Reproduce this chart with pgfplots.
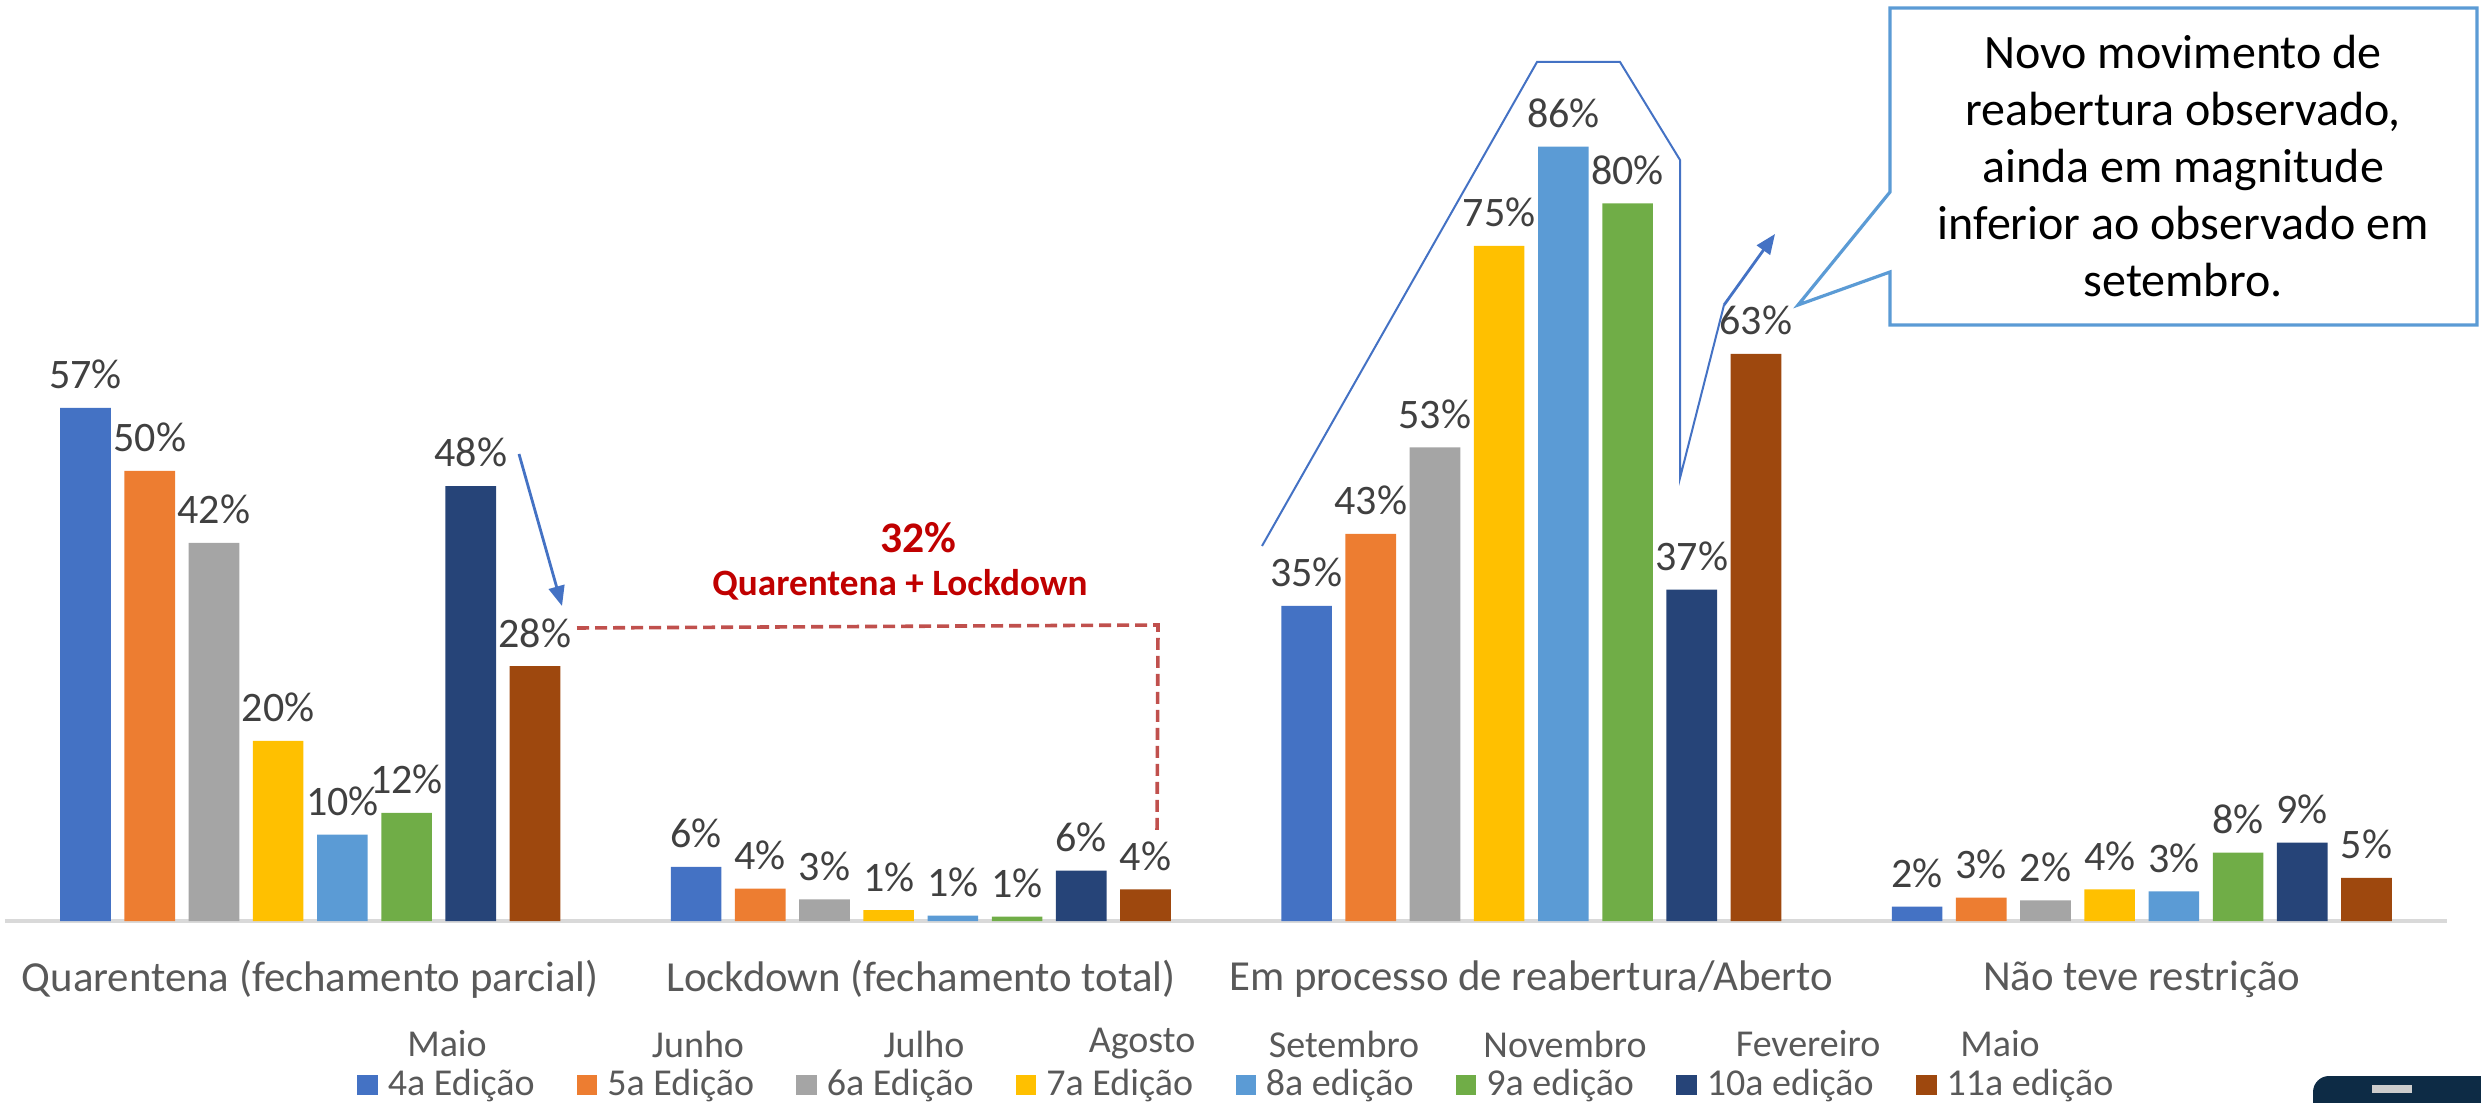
\documentclass[border=0pt]{standalone}
\usepackage{fontspec}
\setmainfont{Carlito}
\usepackage{pgfplots}
\pgfplotsset{compat=1.18}
\usetikzlibrary{arrows.meta}

\definecolor{ed4}{HTML}{4472C4}
\definecolor{ed5}{HTML}{ED7D31}
\definecolor{ed6}{HTML}{A5A5A5}
\definecolor{ed7}{HTML}{FFC000}
\definecolor{ed8}{HTML}{5B9BD5}
\definecolor{ed9}{HTML}{70AD47}
\definecolor{ed10}{HTML}{264478}
\definecolor{ed11}{HTML}{9E480E}
\definecolor{labgray}{HTML}{595959}
\definecolor{valgray}{HTML}{404040}
\definecolor{baseline}{HTML}{D9D9D9}
\definecolor{darkred}{HTML}{C00000}
\definecolor{dashred}{HTML}{C0504D}
\definecolor{logo}{HTML}{0D2B45}

\begin{document}
\begin{tikzpicture}
\useasboundingbox (-1.25pt,-45.25pt) rectangle (619pt,230.25pt);
\begin{axis}[
    at={(0,0)}, anchor=south west,
    scale only axis, width=610.5pt, height=230.25pt,
    xmin=-0.5, xmax=3.5, ymin=0, ymax=102.3,
    ybar=3.4pt, bar width=12.65pt,
    axis y line=none, axis x line*=bottom,
    x axis line style={draw=baseline, line width=0.8pt},
    xtick={0,1,2,3},
    xticklabels={Quarentena (fechamento parcial),Lockdown (fechamento total),Em processo de reabertura/Aberto,Não teve restrição},
    major tick length=0pt,
    xticklabel style={anchor=center, yshift=-14.5pt, text=labgray, font=\fontsize{10.7}{12}\selectfont},
    point meta=explicit symbolic,
    nodes near coords={\pgfplotspointmeta\%},
    nodes near coords style={anchor=base, inner sep=0pt, yshift=4.8pt, text=valgray, font=\fontsize{10.5}{12}\selectfont},
    legend columns=8,
    legend style={at={(0.5055,-0.178)}, anchor=center, draw=none, fill=none,
        font=\fontsize{9.5}{11}\selectfont, text=labgray,
        /tikz/every even column/.append style={column sep=8.6pt},
        /tikz/every odd column/.append style={column sep=0.5pt}},
    legend image code/.code={\fill[#1] (0pt,-2.6pt) rectangle (5.1pt,2.6pt);},
]
\addplot[fill=ed4, draw=none] coordinates {(0,57) [57] (1,6.0) [6] (2,35) [35] (3,1.6) [2]};
\addplot[fill=ed5, draw=none] coordinates {(0,50) [50] (1,3.6) [4] (2,43) [43] (3,2.6) [3]};
\addplot[fill=ed6, draw=none] coordinates {(0,42) [42] (1,2.4) [3] (2,52.6) [53] (3,2.3) [2]};
\addplot[fill=ed7, draw=none] coordinates {(0,20) [20] (1,1.2) [1] (2,75) [75] (3,3.5) [4]};
\addplot[fill=ed8, draw=none] coordinates {(0,9.6) [10] (1,0.6) [1] (2,86) [86] (3,3.3) [3]};
\addplot[fill=ed9, draw=none] coordinates {(0,12) [12] (1,0.5) [1] (2,79.7) [80] (3,7.6) [8]};
\addplot[fill=ed10, draw=none] coordinates {(0,48.3) [48] (1,5.6) [6] (2,36.8) [37] (3,8.7) [9]};
\addplot[fill=ed11, draw=none] coordinates {(0,28.3) [28] (1,3.5) [4] (2,63) [63] (3,4.8) [5]};
\legend{4a Edição,5a Edição,6a Edição,7a Edição,8a edição,9a edição,10a edição,11a edição}
\end{axis}

% annotations, in pixel units of the reference
\begin{scope}[x=0.25pt, y=-0.25pt, xshift=-1.25pt, yshift=230.25pt]
  % month names above the legend
  \foreach \xm/\mon in {447/Maio,698/Junho,924/Julho,1142/Agosto,1344/Setembro,1565/Novembro,1808/Fevereiro,2000/Maio}
    \node[text=labgray, font=\fontsize{9.5}{11}\selectfont] at (\xm,1044) {\mon};

  % quarentena + lockdown
  \draw[dashred, line width=0.9pt, dash pattern=on 3pt off 1.5pt] (577,628) -- (1158,625) -- (1157,835);
  \node[text=darkred, font=\bfseries\fontsize{10.9}{12}\selectfont] at (918,538) {32\%};
  \node[text=darkred, font=\bfseries\fontsize{9.3}{11}\selectfont] at (900,585) {Quarentena + Lockdown};

  \draw[ed4, line width=0.7pt, -{Triangle[length=5pt,width=4pt]}] (519,454) -- (562,606);

  % reabertura outline
  \draw[ed4, line width=0.5pt] (1262,546) -- (1537,62) -- (1620,62) -- (1680,160) -- (1680,478) -- (1724,305);
  \draw[ed4, line width=0.7pt, -{Triangle[length=5pt,width=4pt]}] (1724,305) -- (1775,234);

  % callout
  \draw[ed8, line width=0.8pt, fill=white] (1890,8) -- (2477,8) -- (2477,325) -- (1890,325)
      -- (1890,272) -- (1798,305) -- (1890,192) -- cycle;
  \node[align=center, font=\fontsize{12}{14.3}\selectfont] at (2183,166)
      {Novo movimento de\\reabertura observado,\\ainda em magnitude\\inferior ao observado em\\setembro.};

  % logo corner
  \fill[logo, rounded corners=4pt] (2313,1076) rectangle (2540,1140);
  \fill[gray!40] (2372,1085) rectangle (2412,1093);
\end{scope}
\end{tikzpicture}
\end{document}
